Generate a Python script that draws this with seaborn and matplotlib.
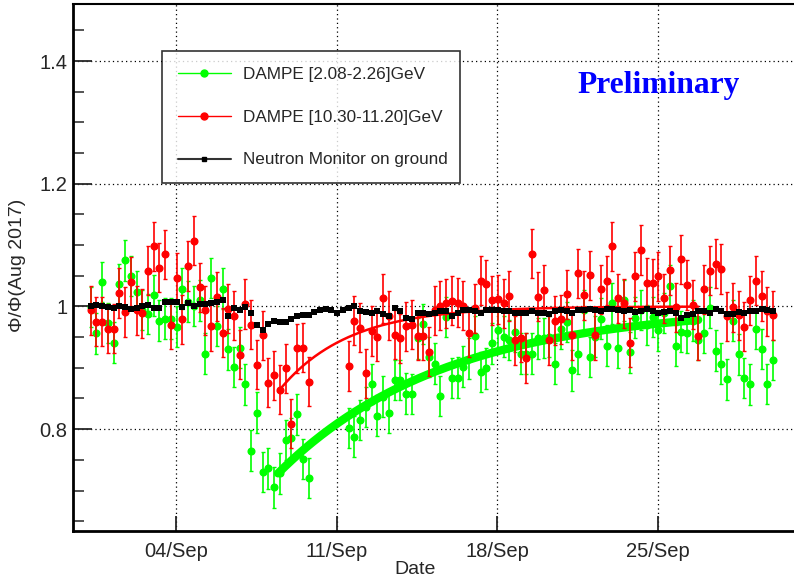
import numpy as np
import pandas as pd
import matplotlib
matplotlib.use('Agg')
import matplotlib.pyplot as plt
import matplotlib.dates as mdates
from matplotlib.lines import Line2D
from matplotlib.ticker import MultipleLocator, FuncFormatter
import seaborn as sns

nan = np.nan

# 6-hour bins, end of Aug 2017 to end of Sep 2017
t_start = '2017-08-31 06:45'
bin_freq = '6h'

neutron = [1.000, 1.003, 1.001, 0.999, 0.998, 1.001, 0.999, 0.996, 0.997, 1.001,
           1.003, 0.998, 0.998, 1.007, 1.007, 1.008, 0.999, 1.005, 1.001, 1.004,
           1.004, 1.005, 1.008, 1.010, 0.985, 0.997, 0.994, 0.999, 0.989, 0.969,
           0.961, 0.971, 0.977, 0.975, 0.974, 0.979, 0.985, 0.986, 0.986, 0.991,
           0.994, 0.996, 0.994, 0.990, 0.995, 0.998, 1.001, 0.992, 0.991, 0.990,
           0.992, 0.988, 0.985, 0.997, 0.992, 0.981, 0.980, 0.990, 0.989, 0.988,
           0.990,
           0.992, 0.992, 0.985, 0.989, 0.994, 0.994, 0.992, 0.990, 0.994, 0.994,
           0.994, 0.992, 0.992, 0.990, 0.989, 0.990, 0.992, 0.990, 0.989, 0.988,
           0.992, 0.994, 0.992, 0.989, 0.994, 0.994, 0.996, 0.994, 0.993, 0.996,
           0.996, 0.994, 0.992,
           0.994, 0.991, 0.993, 0.996, 0.992, 0.990, 0.991, 0.992, 0.990, 0.982,
           0.986, 0.988, 0.992, 0.992, 0.990, 0.996, 0.993, 0.987, 0.988, 0.991,
           0.989, 0.992, 0.992, 0.996, 0.995, 0.992]

dampe_low = [0.999, 0.956, 1.040, 0.973, 0.941, 1.036, 1.075, 1.050, 1.024, 0.994,
             0.988, 1.018, 0.977, 0.980, 0.980, 0.967, 1.029, 1.008, 1.001, 1.010,
             0.923, 1.046, 0.968, 1.029, 0.930, 0.901, 0.933, 0.873, 0.765, 0.827,
             0.730, 0.736, 0.705, 0.728, 0.782, 0.785, 0.824, 0.751, 0.720,
             nan, nan, nan, nan, nan, nan,
             0.802, 0.788, 0.815, 0.836, 0.874, 0.822, 0.853, 0.826, 0.880, 0.880,
             0.858, 0.857, 0.948, 0.971, 0.918, 0.907,
             0.854, 0.983, 0.883, 0.884, 0.902, 0.915, 0.952, 0.893, 0.899, 0.940,
             0.961, 0.951, 0.945, 0.959, 0.923, 0.923, 0.923, 0.948, 0.949, 0.951,
             0.907, 0.964, 0.975, 0.896, 0.923, 0.994, 0.918, 0.951, 0.980, 0.936,
             1.005, 0.933, 1.010,
             0.925, 0.982, 0.994, 0.970, 0.983, 0.961, 0.989, 1.034, 0.936, 0.959,
             0.957, 0.977, 0.946, 0.957, 0.998, 0.928, 0.907, 0.881, 0.977, 0.922,
             0.883, 0.873, 0.963, 0.931, 0.874, 0.913]

dampe_high = [0.994, 0.975, 0.975, 0.964, 0.964, 1.022, 0.991, 1.040, 0.994, 0.989,
              1.058, 1.098, 1.063, 1.085, 0.970, 1.047, 0.979, 1.066, 1.107, 1.031,
              0.994, 0.968, 1.016, 0.957, 0.996, 0.985, 0.921, 1.004, 0.970, 0.905,
              0.953, 0.876, 0.888, 0.864, 0.899, 0.809, 0.932, 0.933, 0.877,
              nan, nan, nan, nan, nan, nan,
              0.903, 0.977, 0.965, 0.891, 0.960, 0.951, 1.013, 0.985, 0.954, 0.948,
              0.968, 0.970, 0.952, 0.952, 0.926, 0.994,
              1.001, 1.005, 1.009, 1.006, 1.001, 0.957, 0.997, 1.042, 1.036, 1.010,
              1.012, 1.005, 1.017, 0.945, 0.949, 0.916, 1.086, 1.016, 1.027, 0.945,
              0.977, 0.979, 1.020, 0.953, 1.054, 1.018, 1.051, 0.953, 1.028, 1.042,
              1.098, 1.013, 1.005,
              0.941, 1.049, 1.092, 1.039, 1.038, 1.049, 1.013, 1.059, 0.999, 1.077,
              1.035, 1.003, 0.952, 1.028, 1.058, 1.070, 1.061, 0.984, 0.999, 0.986,
              0.967, 1.010, 1.042, 1.017, 0.992, 0.986]

err_low = 0.033
err_high = 0.040

# recovery fits: 1 - amp * exp(-(t - t0) / tau), tau in days
fit_start = '2017-09-08 10:50'
fit_end = '2017-09-26 18:30'
fit_low_amp, fit_low_tau = 0.272, 7.28
fit_high_amp, fit_high_tau = 0.139, 3.0

labels = ['DAMPE [2.08-2.26]GeV', 'DAMPE [10.30-11.20]GeV', 'Neutron Monitor on ground']
green, red = '#00ff00', '#ff0000'

df = pd.DataFrame({'time': pd.date_range(t_start, periods=len(neutron), freq=bin_freq),
                   'neutron': neutron, 'low': dampe_low, 'high': dampe_high})

ft = pd.date_range(fit_start, fit_end, periods=300)
dt = (ft - ft[0]) / pd.Timedelta(days=1)
fits = pd.DataFrame({'time': ft,
                     'low': 1 - fit_low_amp * np.exp(-dt / fit_low_tau),
                     'high': 1 - fit_high_amp * np.exp(-dt / fit_high_tau)})

sns.set_style('white')
plt.rcParams['font.family'] = ['Liberation Sans', 'DejaVu Sans']

fig = plt.figure(figsize=(7.94, 5.80), dpi=100)
ax = fig.add_axes([73 / 794, 1 - 531 / 580, 727 / 794, 527 / 580])

ax.errorbar(df['time'], df['low'], yerr=err_low, fmt='o', color=green, ms=4.8,
            elinewidth=1.2, capsize=1.5, capthick=1.0, zorder=2)
sns.lineplot(data=fits, x='time', y='low', color=green, lw=6, ax=ax, zorder=3)
ax.errorbar(df['time'], df['high'], yerr=err_high, fmt='o', color=red, ms=4.8,
            elinewidth=1.2, capsize=1.5, capthick=1.0, zorder=4)
sns.lineplot(data=fits, x='time', y='high', color=red, lw=1.8, ax=ax, zorder=5)
sns.scatterplot(data=df, x='time', y='neutron', marker='s', s=13, color='black',
                linewidth=0, ax=ax, zorder=6)

ax.set_xlim(pd.Timestamp('2017-08-30 12:15'), pd.Timestamp('2017-10-01 05:00'))
ax.set_ylim(0.634, 1.493)

ax.xaxis.set_major_locator(mdates.DayLocator(bymonthday=[4, 11, 18, 25]))
ax.xaxis.set_major_formatter(mdates.DateFormatter('%d/%b'))
ax.yaxis.set_major_locator(MultipleLocator(0.2))
ax.yaxis.set_minor_locator(MultipleLocator(0.05))
ax.yaxis.set_major_formatter(FuncFormatter(lambda v, p: f'{v:g}'))

ax.tick_params(axis='y', which='major', direction='in', length=14, width=1.3,
               labelsize=14.5, pad=4, left=True, right=False)
ax.tick_params(axis='y', which='minor', direction='in', length=8, width=1.1, left=True)
ax.tick_params(axis='x', which='major', direction='in', length=11, width=1.3,
               labelsize=14.5, pad=8, bottom=True, top=False)

ax.grid(True, which='major', color='black', linestyle=(0, (1, 2.5)), linewidth=0.9)
ax.set_axisbelow(True)

for side, w in [('left', 2.0), ('bottom', 2.0), ('top', 1.5)]:
    ax.spines[side].set_linewidth(w)
    ax.spines[side].set_color('black')
ax.spines['right'].set_visible(False)

ax.set_xlabel('')
ax.set_ylabel('')
fig.text(415 / 794, 1 - 569 / 580, 'Date', ha='center', va='center', fontsize=14)
fig.text(18 / 794, 1 - 265 / 580, 'Φ/Φ(Aug 2017)', rotation=90, ha='center',
         va='center', fontsize=14)

fig.text(659 / 794, 1 - 93 / 580, 'Preliminary', family='Liberation Serif',
         weight='bold', fontsize=22.7, color='#0000ff', ha='center', va='baseline')

handles = [Line2D([], [], color=green, marker='o', ms=5, lw=1),
           Line2D([], [], color=red, marker='o', ms=5, lw=1),
           Line2D([], [], color='#333333', marker='s', ms=3.5, mfc='black', mec='black', lw=1.5)]
leg = ax.legend(handles, labels, loc='upper left',
                bbox_to_anchor=(162 / 794, 1 - 52 / 580, 298 / 794, 0.001),
                bbox_transform=fig.transFigure, mode='expand', frameon=True,
                fancybox=False, edgecolor='black', fontsize=12.3, handlelength=3.1,
                handletextpad=0.7, labelspacing=1.62, borderpad=0.92, borderaxespad=0)
leg.get_frame().set_linewidth(1.2)
leg.set_zorder(10)

fig.savefig('out.png', dpi=100)
